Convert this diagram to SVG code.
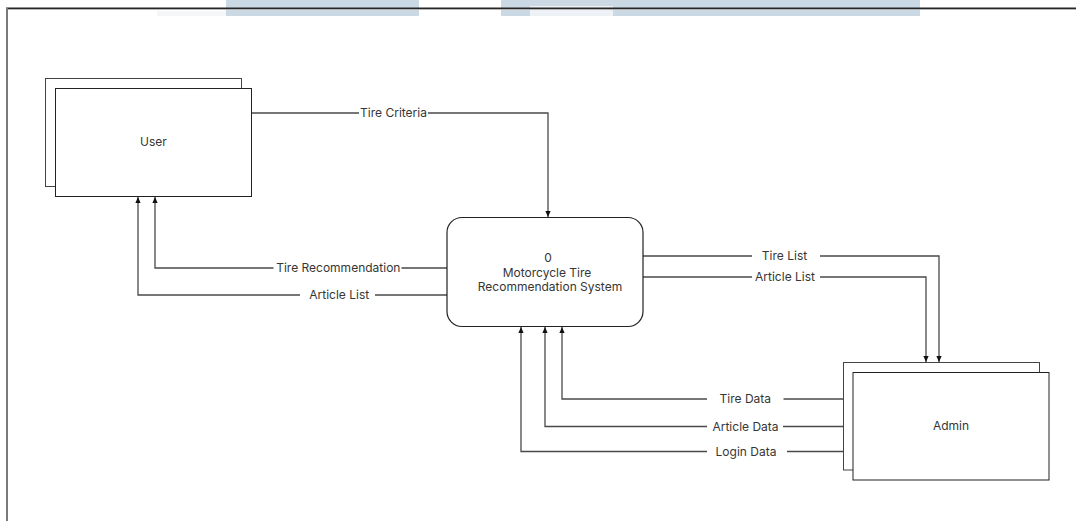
<svg xmlns="http://www.w3.org/2000/svg" width="1076" height="521" viewBox="0 0 1076 521">
  <defs>
    <marker id="arrow" markerUnits="userSpaceOnUse" markerWidth="6" markerHeight="6" refX="6" refY="3" orient="auto">
      <path d="M0,0.4 L6,3 L0,5.6 z" fill="#111"/>
    </marker>
    <style>
      .band { fill: #cbd9e4; }
      .entity-back { fill: #fff; stroke: #444; stroke-width: 1; }
      .entity { fill: #fff; stroke: #222; stroke-width: 1; }
      .process { fill: #fff; stroke: #222; stroke-width: 1.2; }
      .flow { fill: none; stroke: #4a4a4a; stroke-width: 1.3; marker-end: url(#arrow); }
      .gap { fill: #fff; }
      text { font-family: Inter, "Liberation Sans", sans-serif; font-size: 12px; fill: #363636; text-anchor: middle; }
    </style>
  </defs>

  <rect width="1076" height="521" fill="#fff"/>

  <!-- header band -->
  <g id="header">
    <rect x="157" y="11" width="69" height="5" fill="#f4f6f8"/>
    <rect class="band" x="226" y="0" width="193" height="16"/>
    <rect class="band" x="501" y="0" width="419" height="16"/>
    <rect x="530" y="6" width="83" height="10" fill="#eef2f6"/>
  </g>

  <!-- page frame -->
  <g id="frame">
    <rect x="6" y="7.5" width="1070" height="1.6" fill="#262626"/>
    <rect x="8" y="9.1" width="1068" height="0.9" fill="#b0b0b0"/>
    <rect x="6" y="8" width="2" height="513" fill="#7a7a7a"/>
  </g>

  <!-- data flows -->
  <g id="connectors">
    <polyline class="flow" points="252,113 548,113 548,217"/>
    <polyline class="flow" points="447,268 155,268 155,197"/>
    <polyline class="flow" points="447,295 138,295 138,197"/>
    <polyline class="flow" points="643,256 939,256 939,362"/>
    <polyline class="flow" points="643,277 926,277 926,362"/>
    <polyline class="flow" points="843,399 562,399 562,327"/>
    <polyline class="flow" points="843,426.5 545,426.5 545,327"/>
    <polyline class="flow" points="843,451.5 521,451.5 521,327"/>
  </g>

  <!-- flow labels -->
  <g id="labels">
    <rect class="gap" x="359" y="106" width="69" height="14"/>
    <text x="393.5" y="117.3">Tire Criteria</text>

    <rect class="gap" x="273.5" y="261" width="128" height="14"/>
    <text x="338.3" y="272.3">Tire Recommendation</text>

    <rect class="gap" x="300" y="288" width="75" height="14"/>
    <text x="339.2" y="299.3">Article List</text>

    <rect class="gap" x="752" y="249" width="68" height="14"/>
    <text x="784.5" y="260.3">Tire List</text>

    <rect class="gap" x="752" y="270" width="68" height="14"/>
    <text x="785" y="281.3">Article List</text>

    <rect class="gap" x="707" y="392" width="76.5" height="14"/>
    <text x="745.3" y="403.3">Tire Data</text>

    <rect class="gap" x="707" y="419.5" width="76" height="14"/>
    <text x="745.5" y="431">Article Data</text>

    <rect class="gap" x="707" y="444.5" width="80" height="14"/>
    <text x="746" y="456">Login Data</text>
  </g>

  <!-- external entity: User -->
  <g id="user">
    <rect class="entity-back" x="45.5" y="78.5" width="196" height="108"/>
    <rect class="entity" x="55.5" y="88.5" width="196" height="108"/>
    <text x="153.5" y="146">User</text>
  </g>

  <!-- process 0 -->
  <g id="process-0">
    <rect class="process" x="447" y="217.5" width="196" height="109" rx="15" ry="15"/>
    <text x="548" y="262">0</text>
    <text x="547" y="276.5">Motorcycle Tire</text>
    <text x="550" y="291">Recommendation System</text>
  </g>

  <!-- external entity: Admin -->
  <g id="admin">
    <rect class="entity-back" x="843.5" y="362.5" width="196" height="107.5"/>
    <rect class="entity" x="853" y="372.5" width="196" height="107.5"/>
    <text x="951" y="430.3">Admin</text>
  </g>
</svg>
